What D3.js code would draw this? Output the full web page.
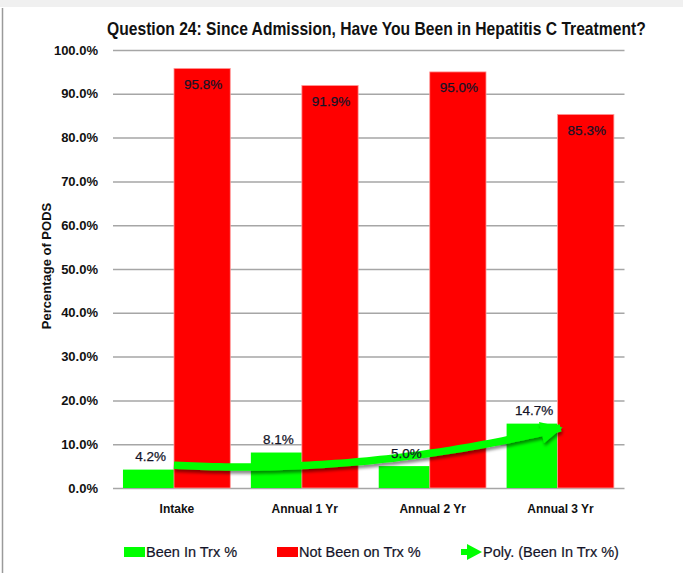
<!DOCTYPE html>
<html>
<head>
<meta charset="utf-8">
<script src="https://cdn.jsdelivr.net/npm/d3@7"></script>
<style>
  body { margin: 0; background: #fff; }
  svg { display: block; }
</style>
</head>
<body>
<svg id="chart"></svg>
<script>
// Chart data
const categories = ["Intake", "Annual 1 Yr", "Annual 2 Yr", "Annual 3 Yr"];
const beenInTrx = [4.2, 8.1, 5.0, 14.7];
const notBeenOnTrx = [95.8, 91.9, 95.0, 85.3];
const yTicks = [0, 10, 20, 30, 40, 50, 60, 70, 80, 90, 100];
const legendLabels = ["Been In Trx %", "Not Been on Trx %", "Poly. (Been In Trx %)"];

const width = 683, height = 573;
const margin = { top: 50, right: 58.5, bottom: 85, left: 113 };
const GREEN = "#00ff00", RED = "#ff0000";
const font = "'Liberation Sans', Arial, sans-serif";

const svg = d3.select("#chart")
    .attr("width", width)
    .attr("height", height);

// Drop shadow for the trendline
const defs = svg.append("defs");
defs.append("filter")
    .attr("id", "shadow")
    .attr("x", "-20%").attr("y", "-50%")
    .attr("width", "140%").attr("height", "200%")
    .append("feDropShadow")
    .attr("dx", 1).attr("dy", 3)
    .attr("stdDeviation", 1.5)
    .attr("flood-color", "#000")
    .attr("flood-opacity", 0.45);

defs.append("marker")
    .attr("id", "arrow")
    .attr("viewBox", "0 0 10 10")
    .attr("refX", 9).attr("refY", 5)
    .attr("markerWidth", 3.1).attr("markerHeight", 2.9)
    .attr("orient", "auto")
    .attr("markerUnits", "strokeWidth")
    .append("path")
    .attr("d", "M0,0 L10,5 L0,10 Z")
    .attr("fill", GREEN);

// Frame: light strip on top, thin border on the left
svg.append("rect")
    .attr("x", 0).attr("y", 0)
    .attr("width", width).attr("height", 7)
    .attr("fill", "#f0f0f0");
svg.append("line")
    .attr("x1", 2.5).attr("x2", 2.5)
    .attr("y1", 8).attr("y2", height)
    .attr("stroke", "#9a9a9a")
    .attr("stroke-width", 1.5);

// Scales
const x = d3.scaleBand()
    .domain(categories)
    .range([margin.left, width - margin.right]);

const y = d3.scaleLinear()
    .domain([0, 100])
    .range([height - margin.bottom, margin.top]);

// Gridlines and y tick labels
const yAxis = svg.append("g")
    .attr("transform", `translate(${margin.left},0)`)
    .call(d3.axisLeft(y)
        .tickValues(yTicks)
        .tickSize(-(width - margin.left - margin.right))
        .tickPadding(15)
        .tickFormat(d => d.toFixed(1) + "%"));
yAxis.select(".domain").remove();
yAxis.selectAll(".tick line")
    .attr("stroke", "#a6a6a6")
    .attr("stroke-width", 1.5);
yAxis.selectAll(".tick text")
    .attr("font-family", font)
    .attr("font-weight", "bold")
    .attr("font-size", 13)
    .attr("fill", "#111");

// Y axis title
svg.append("text")
    .attr("transform", `translate(46,${(y(0) + y(100)) / 2 - 3}) rotate(-90)`)
    .attr("text-anchor", "middle")
    .attr("dominant-baseline", "central")
    .attr("font-family", font)
    .attr("font-weight", "bold")
    .attr("font-size", 13)
    .attr("fill", "#111")
    .text("Percentage of PODS");

// Title, squeezed horizontally to the reference width (narrow font look)
const title = svg.append("text")
    .attr("font-family", font)
    .attr("font-weight", "bold")
    .attr("font-size", 17.5)
    .attr("fill", "#111")
    .text("Question 24: Since Admission, Have You Been in Hepatitis C Treatment?");
const titleW = title.node().getComputedTextLength();
title.attr("transform", `translate(107,35) scale(${539 / titleW},1)`);

// Bars
const bw = x.bandwidth();
const greenX = c => x(c) + bw * 0.078;
const greenW = bw * 0.40;
const redX = c => x(c) + bw * 0.477;
const redW = bw * 0.44;

svg.append("g")
    .selectAll("rect")
    .data(categories)
    .join("rect")
    .attr("x", d => greenX(d))
    .attr("y", (d, i) => y(beenInTrx[i]))
    .attr("width", greenW)
    .attr("height", (d, i) => y(0) - y(beenInTrx[i]))
    .attr("fill", GREEN);

svg.append("g")
    .selectAll("rect")
    .data(categories)
    .join("rect")
    .attr("x", d => redX(d))
    .attr("y", (d, i) => y(notBeenOnTrx[i]))
    .attr("width", redW)
    .attr("height", (d, i) => y(0) - y(notBeenOnTrx[i]))
    .attr("fill", RED)
    .attr("stroke", "#ff9a9a")
    .attr("stroke-width", 0.8);

// Polynomial (order 2) trendline of the green series, like Excel's
function polyFit2(xs, ys) {
    let s = [0, 0, 0, 0, 0], t = [0, 0, 0];
    xs.forEach((xv, i) => {
        for (let k = 0; k < 5; k++) s[k] += Math.pow(xv, k);
        for (let k = 0; k < 3; k++) t[k] += Math.pow(xv, k) * ys[i];
    });
    const A = [[s[0], s[1], s[2]], [s[1], s[2], s[3]], [s[2], s[3], s[4]]];
    const det = m => m[0][0] * (m[1][1] * m[2][2] - m[1][2] * m[2][1])
        - m[0][1] * (m[1][0] * m[2][2] - m[1][2] * m[2][0])
        + m[0][2] * (m[1][0] * m[2][1] - m[1][1] * m[2][0]);
    const D = det(A);
    return [0, 1, 2].map(col => {
        const M = A.map((row, r) => row.map((v, c) => c === col ? t[r] : v));
        return det(M) / D;
    });
}
const idx = categories.map((c, i) => i + 1);
const [c0, c1, c2] = polyFit2(idx, beenInTrx);
const trendX = d3.scaleLinear().domain([1, categories.length])
    .range([x(categories[0]) + bw / 2 - 3, x(categories[categories.length - 1]) + bw / 2]);
const trendPts = d3.range(1, categories.length + 0.001, 0.05)
    .map(k => [trendX(k), y(c0 + c1 * k + c2 * k * k)]);

svg.append("path")
    .datum(trendPts)
    .attr("d", d3.line().curve(d3.curveBasis))
    .attr("fill", "none")
    .attr("stroke", GREEN)
    .attr("stroke-width", 7.5)
    .attr("marker-end", "url(#arrow)")
    .attr("filter", "url(#shadow)");

// Value labels
svg.append("g")
    .selectAll("text")
    .data(categories)
    .join("text")
    .attr("x", d => greenX(d) + greenW / 2 + 2)
    .attr("y", (d, i) => y(beenInTrx[i]) - 13)
    .attr("text-anchor", "middle")
    .attr("dominant-baseline", "central")
    .attr("font-family", font)
    .attr("font-size", 13.5)
    .attr("fill", "#141428")
    .attr("stroke", "#141428")
    .attr("stroke-width", 0.25)
    .text((d, i) => beenInTrx[i].toFixed(1) + "%");

svg.append("g")
    .selectAll("text")
    .data(categories)
    .join("text")
    .attr("x", d => redX(d) + redW / 2 + 1)
    .attr("y", (d, i) => y(notBeenOnTrx[i]) + 16)
    .attr("text-anchor", "middle")
    .attr("dominant-baseline", "central")
    .attr("font-family", font)
    .attr("font-size", 13.5)
    .attr("fill", "#141428")
    .attr("stroke", "#141428")
    .attr("stroke-width", 0.25)
    .text((d, i) => notBeenOnTrx[i].toFixed(1) + "%");

// Category labels
svg.append("g")
    .selectAll("text")
    .data(categories)
    .join("text")
    .attr("x", d => x(d) + bw / 2)
    .attr("y", 509)
    .attr("text-anchor", "middle")
    .attr("dominant-baseline", "central")
    .attr("font-family", font)
    .attr("font-weight", "bold")
    .attr("font-size", 12)
    .attr("fill", "#111")
    .text(d => d);

// Legend
const legendY = 552;
const legend = svg.append("g");
const legendItems = [
    { label: legendLabels[0], x: 124, type: "rect", color: GREEN },
    { label: legendLabels[1], x: 277, type: "rect", color: RED },
    { label: legendLabels[2], x: 461, type: "arrow", color: GREEN }
];
legendItems.forEach(item => {
    const g = legend.append("g");
    if (item.type === "rect") {
        g.append("rect")
            .attr("x", item.x).attr("y", legendY - 5)
            .attr("width", 21).attr("height", 10)
            .attr("fill", item.color);
    } else {
        g.append("path")
            .attr("d", `M${item.x},${legendY - 3} L${item.x + 6},${legendY - 3} L${item.x + 6},${legendY - 8}
                        L${item.x + 21},${legendY} L${item.x + 6},${legendY + 8} L${item.x + 6},${legendY + 3}
                        L${item.x},${legendY + 3} Z`)
            .attr("fill", item.color);
    }
    g.append("text")
        .attr("x", item.x + 22)
        .attr("y", legendY)
        .attr("dominant-baseline", "central")
        .attr("font-family", font)
        .attr("font-size", 14.5)
        .attr("fill", "#141428")
        .attr("stroke", "#141428")
        .attr("stroke-width", 0.2)
        .text(item.label);
});
</script>
</body>
</html>
